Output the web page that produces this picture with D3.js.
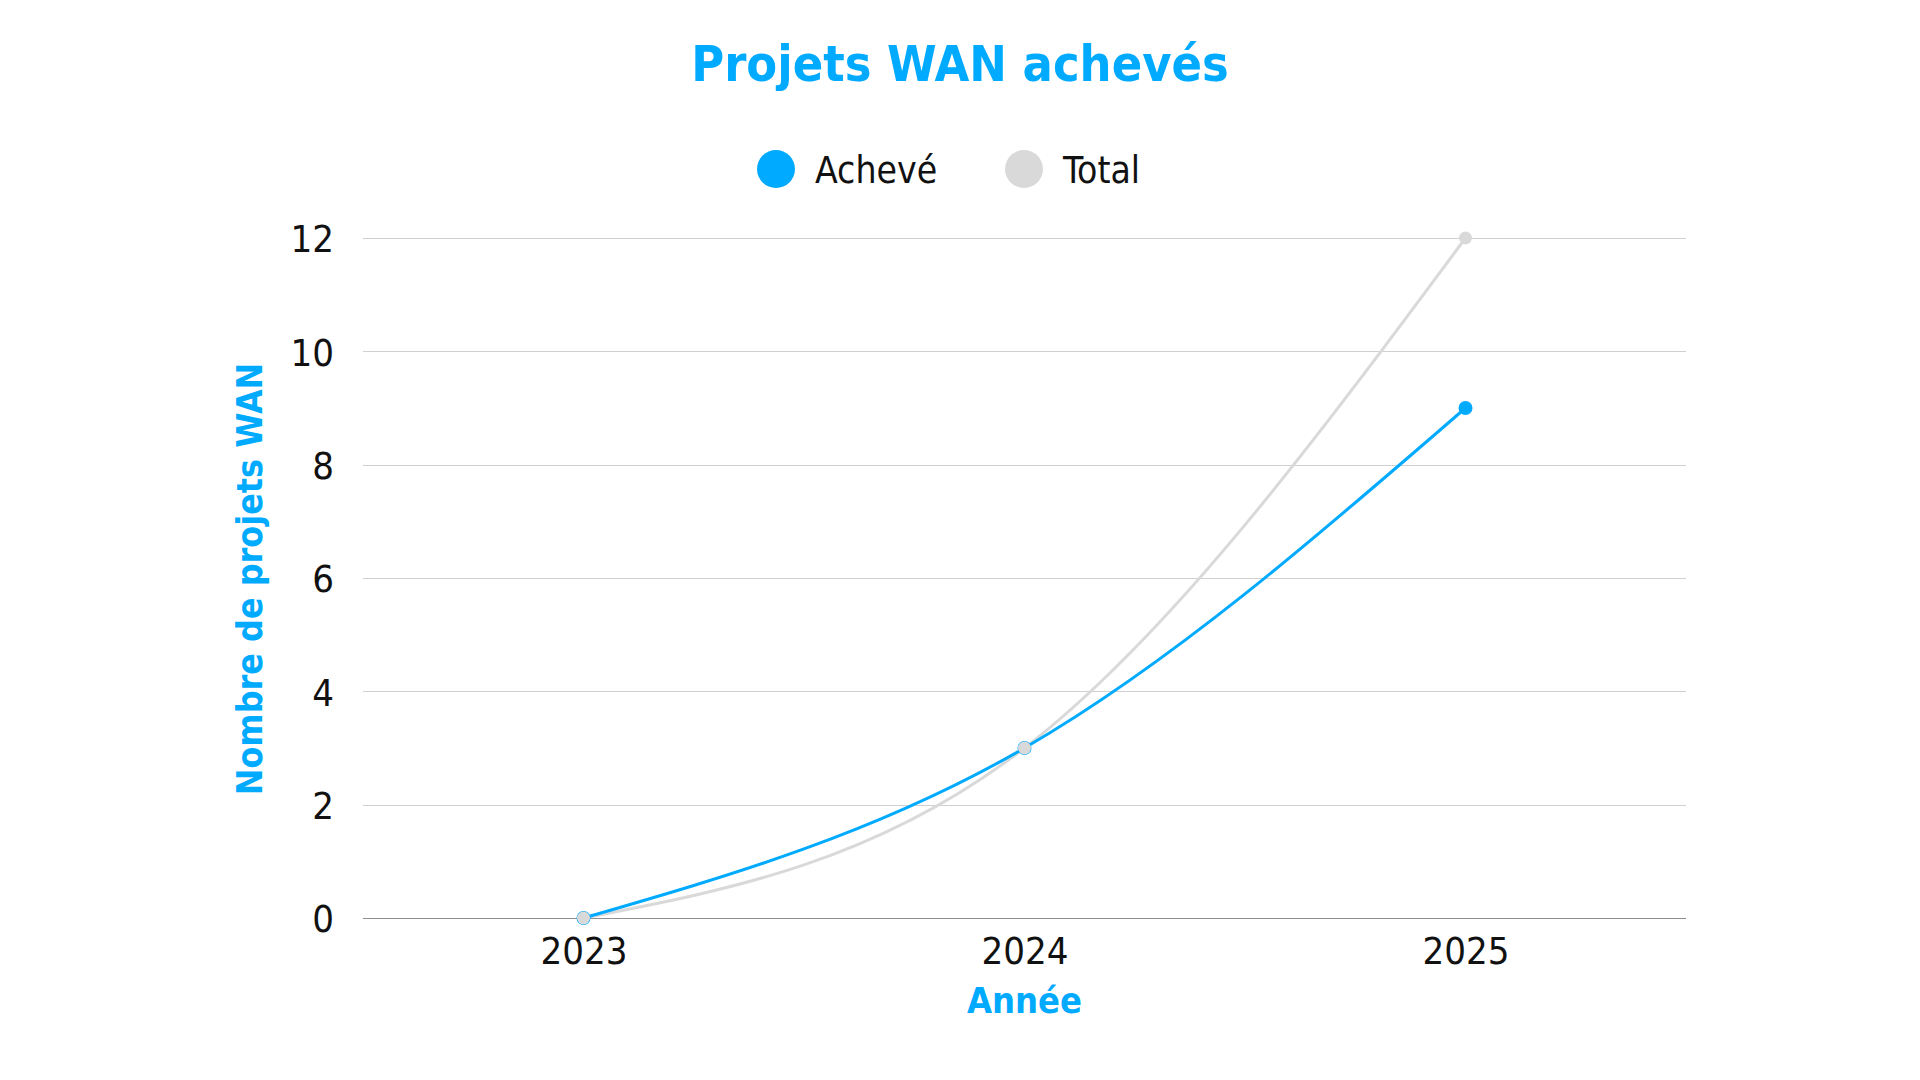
<!DOCTYPE html>
<html>
<head>
<meta charset="utf-8">
<script src="https://cdn.jsdelivr.net/npm/d3@7"></script>
<style>
  html, body { margin: 0; padding: 0; background: #fff; }
  svg text { font-family: "DejaVu Sans Condensed", "DejaVu Sans", sans-serif; font-stretch: condensed; }
</style>
</head>
<body>
<div id="wrapper"></div>
<script>
// données
const years = ["2023", "2024", "2025"];
const acheve = [0, 3, 9];
const total = [0, 3, 12];
const yTicks = [0, 2, 4, 6, 8, 10, 12];
const seriesNames = ["Achevé", "Total"];

const blue = "#00aaff";
const grey = "#d9d9d9";

function buildPlot() {
    const dimension = {
        width: 1920,
        height: 1080,
        margin: { top: 238, left: 363, bottom: 162, right: 234 }
    };
    dimension.boundedWidth = dimension.width - dimension.margin.left - dimension.margin.right;
    dimension.boundedHeight = dimension.height - dimension.margin.top - dimension.margin.bottom;

    const svg = d3.select("#wrapper").append("svg")
        .attr("width", dimension.width)
        .attr("height", dimension.height);

    const bounded = svg.append("g")
        .attr("transform", `translate(${dimension.margin.left},${dimension.margin.top})`);

    const xScale = d3.scalePoint()
        .domain(years)
        .range([0, dimension.boundedWidth])
        .padding(0.5);

    const yScale = d3.scaleLinear()
        .domain([0, 12])
        .range([dimension.boundedHeight, 0]);

    // grille horizontale
    bounded.append("g")
        .selectAll("line")
        .data(yTicks)
        .join("line")
        .attr("x1", 0)
        .attr("x2", dimension.boundedWidth)
        .attr("y1", d => Math.round(yScale(d)) + 0.5)
        .attr("y2", d => Math.round(yScale(d)) + 0.5)
        .attr("stroke", d => d === 0 ? "#8e8e8e" : "#d0d0d0")
        .attr("stroke-width", 1.2);

    // axe y
    const yAxis = bounded.append("g")
        .call(d3.axisLeft(yScale).tickValues(yTicks).tickSize(0).tickPadding(29));
    yAxis.select(".domain").remove();
    yAxis.selectAll("text")
        .attr("font-size", 38)
        .attr("fill", "#111")
        .attr("dy", "0.36em")
        .style("font-family", "'DejaVu Sans Condensed', 'DejaVu Sans', sans-serif");

    // axe x
    const xAxis = bounded.append("g")
        .attr("transform", `translate(0,${dimension.boundedHeight})`)
        .call(d3.axisBottom(xScale).tickSize(0).tickPadding(19));
    xAxis.select(".domain").remove();
    xAxis.selectAll("text")
        .attr("font-size", 38)
        .attr("fill", "#111")
        .attr("dy", "0.71em")
        .style("font-family", "'DejaVu Sans Condensed', 'DejaVu Sans', sans-serif");

    const line = d3.line()
        .x((d, i) => xScale(years[i]))
        .y(d => yScale(d))
        .curve(d3.curveMonotoneX);

    bounded.append("path")
        .attr("d", line(total))
        .attr("fill", "none")
        .attr("stroke", grey)
        .attr("stroke-width", 3);

    bounded.append("path")
        .attr("d", line(acheve))
        .attr("fill", "none")
        .attr("stroke", blue)
        .attr("stroke-width", 3);

    bounded.append("g")
        .selectAll("circle")
        .data(acheve)
        .join("circle")
        .attr("cx", (d, i) => xScale(years[i]))
        .attr("cy", d => yScale(d))
        .attr("r", 7)
        .attr("fill", blue);

    bounded.append("g")
        .selectAll("circle")
        .data(total)
        .join("circle")
        .attr("cx", (d, i) => xScale(years[i]))
        .attr("cy", d => yScale(d))
        .attr("r", 6.5)
        .attr("fill", grey);

    // titre
    svg.append("text")
        .attr("x", 960)
        .attr("y", 81)
        .attr("text-anchor", "middle")
        .attr("font-size", 50)
        .attr("font-weight", "bold")
        .attr("fill", blue)
        .text("Projets WAN achevés");

    // légende
    const legend = svg.append("g");
    const legendX = [776, 1024];
    const legendColors = [blue, grey];
    seriesNames.forEach((name, i) => {
        legend.append("circle")
            .attr("cx", legendX[i])
            .attr("cy", 169)
            .attr("r", 19)
            .attr("fill", legendColors[i]);
        legend.append("text")
            .attr("x", legendX[i] + 39)
            .attr("y", 183)
            .attr("font-size", 37)
            .attr("fill", "#111")
            .text(name);
    });

    // titres des axes
    svg.append("text")
        .attr("x", dimension.margin.left + dimension.boundedWidth / 2)
        .attr("y", 1013)
        .attr("text-anchor", "middle")
        .attr("font-size", 36)
        .attr("font-weight", "bold")
        .attr("fill", blue)
        .text("Année");

    svg.append("text")
        .attr("transform", `translate(262,579) rotate(-90)`)
        .attr("text-anchor", "middle")
        .attr("font-size", 35.5)
        .attr("font-weight", "bold")
        .attr("fill", blue)
        .text("Nombre de projets WAN");
}

buildPlot();
</script>
</body>
</html>
